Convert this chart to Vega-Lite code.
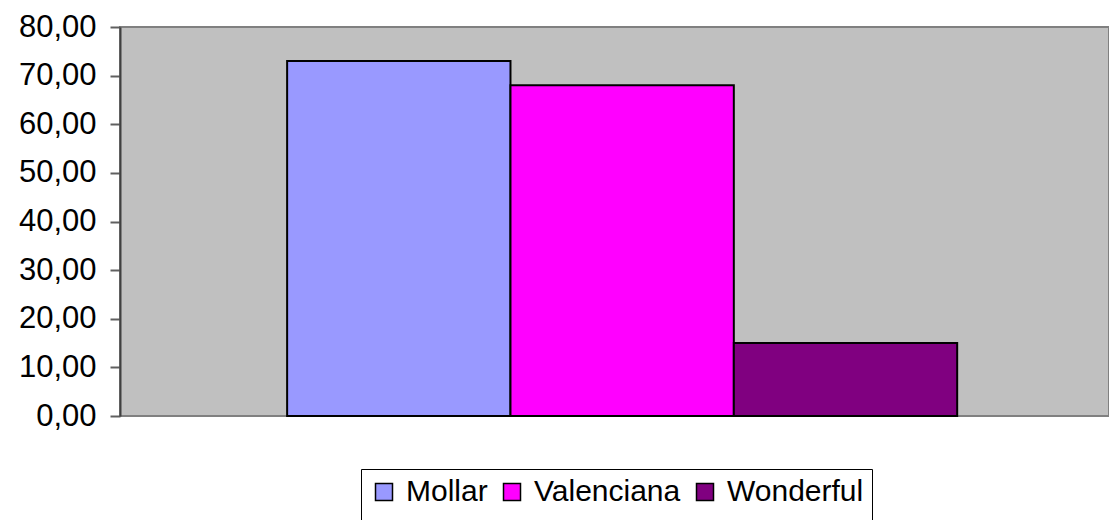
{
  "$schema": "https://vega.github.io/schema/vega-lite/v6.json",
  "autosize": {"type": "none"},
  "padding": {"left": 120, "top": 27, "right": 0, "bottom": 104},
  "width": 989,
  "height": 389,
  "background": "white",
  "config": {
    "view": {"fill": "#C0C0C0", "stroke": "#808080", "strokeWidth": 2},
    "font": "Liberation Sans"
  },
  "data": {
    "values": [
      {"variedad": "Mollar", "valor": 73.0},
      {"variedad": "Valenciana", "valor": 68.0},
      {"variedad": "Wonderful", "valor": 15.0}
    ]
  },
  "mark": {"type": "bar", "stroke": "black", "strokeWidth": 2, "opacity": 1},
  "encoding": {
    "x": {
      "field": "variedad",
      "type": "nominal",
      "scale": {"domain": ["Mollar", "Valenciana", "Wonderful"], "paddingInner": 0, "paddingOuter": 0.714, "align": 0.524},
      "axis": null
    },
    "y": {
      "field": "valor",
      "type": "quantitative",
      "scale": {"domain": [0, 80], "nice": false},
      "axis": {
        "values": [0, 10, 20, 30, 40, 50, 60, 70, 80],
        "labelExpr": "replace(format(datum.value, '.2f'), '.', ',')",
        "labelFont": "Liberation Sans",
        "labelFontSize": 31,
        "labelColor": "black",
        "labelPadding": 14,
        "tickSize": 10,
        "tickColor": "#606060",
        "tickWidth": 2,
        "domainColor": "#404040",
        "domainWidth": 2,
        "grid": false,
        "title": null
      }
    },
    "color": {
      "field": "variedad",
      "type": "nominal",
      "scale": {"domain": ["Mollar", "Valenciana", "Wonderful"], "range": ["#9999FF", "#FF00FF", "#800080"]},
      "legend": {
        "orient": "none",
        "legendX": 241,
        "legendY": 442,
        "direction": "horizontal",
        "title": " ",
        "titleOrient": "bottom",
        "titleFontSize": 10,
        "titlePadding": 4,
        "strokeColor": "black",
        "fillColor": "white",
        "padding": 8,
        "symbolType": "square",
        "symbolSize": 289,
        "symbolStrokeColor": "black",
        "symbolStrokeWidth": 1.5,
        "symbolOpacity": 1,
        "labelFont": "Liberation Sans",
        "labelFontSize": 30,
        "labelColor": "black",
        "labelOffset": 7,
        "columnPadding": 9,
        "labelLimit": 400
      }
    }
  }
}
